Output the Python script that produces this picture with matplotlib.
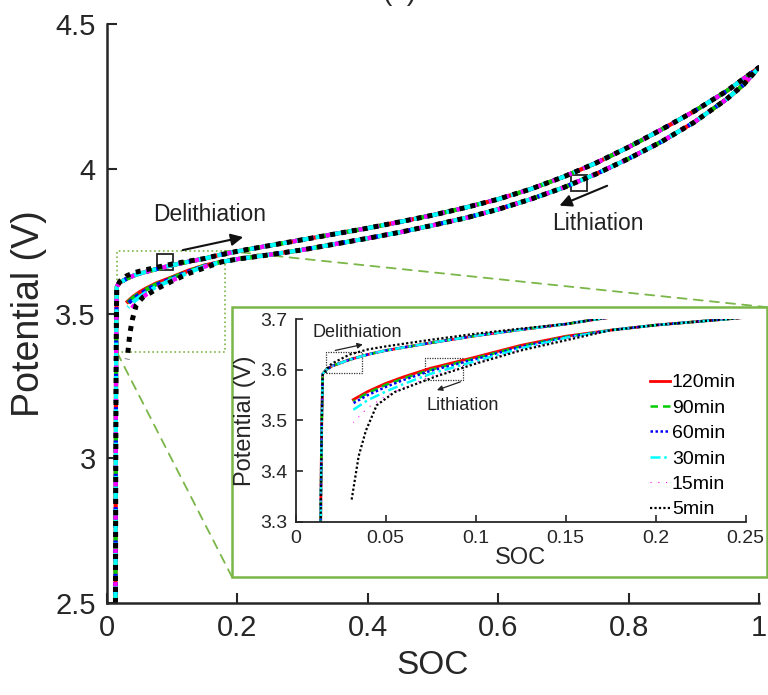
import matplotlib
matplotlib.use('Agg')
import matplotlib.pyplot as plt
from matplotlib.patches import Rectangle, ConnectionPatch

plt.rcParams['font.family'] = ['Liberation Sans', 'DejaVu Sans']

# ---- data: delithiation branch (low SOC part, per series where it differs) ----
up_lo_soc = [0.013, 0.0135, 0.014, 0.0145, 0.015, 0.017, 0.02, 0.03, 0.04, 0.05, 0.075, 0.1, 0.125, 0.15, 0.168]
up_lo_v = [2.5, 3.0, 3.35, 3.5, 3.592, 3.600, 3.607, 3.620, 3.630, 3.638, 3.653, 3.667, 3.679, 3.690, 3.700]
up_lo_v_5min = [2.5, 3.0, 3.35, 3.5, 3.590, 3.600, 3.612, 3.630, 3.640, 3.646, 3.659, 3.671, 3.681, 3.690, 3.700]

# delithiation branch, high SOC (all rates overlap)
up_hi_soc = [0.2, 0.25, 0.3, 0.35, 0.4, 0.45, 0.5, 0.55, 0.6, 0.65, 0.7, 0.75, 0.8, 0.85, 0.9, 0.95, 1.0]
up_hi_v = [3.715, 3.735, 3.755, 3.775, 3.795, 3.817, 3.84, 3.866, 3.895, 3.93, 3.972, 4.02, 4.075,
           4.135, 4.198, 4.268, 4.35]

# lithiation branch, high SOC (all rates overlap)
lo_hi_soc = [0.175, 0.2, 0.22, 0.24, 0.3, 0.35, 0.4, 0.45, 0.5, 0.55, 0.6, 0.65, 0.7, 0.75, 0.8, 0.85,
             0.9, 0.95, 0.976, 1.0]
lo_hi_v = [3.678, 3.688, 3.694, 3.70, 3.72, 3.74, 3.76, 3.781, 3.805, 3.83, 3.86, 3.895, 3.935, 3.982,
           4.035, 4.093, 4.16, 4.24, 4.29, 4.35]

# lithiation branch, low SOC (rate dependent)
lo_lo_soc = [0.032, 0.04, 0.05, 0.06, 0.075, 0.1, 0.125, 0.15]
lo_lo_v_120 = [3.541, 3.557, 3.573, 3.586, 3.603, 3.625, 3.648, 3.666]
lo_lo_v_90 = [3.538, 3.554, 3.570, 3.583, 3.600, 3.623, 3.646, 3.665]
lo_lo_v_60 = [3.534, 3.550, 3.566, 3.580, 3.598, 3.621, 3.645, 3.664]
lo_lo_v_30 = [3.521, 3.540, 3.557, 3.572, 3.592, 3.617, 3.642, 3.663]
lo_lo_v_15 = [3.496, 3.525, 3.548, 3.565, 3.587, 3.614, 3.640, 3.662]
lo_lo_soc_5 = [0.031, 0.035, 0.039, 0.045, 0.055, 0.078, 0.1, 0.125, 0.15]
lo_lo_v_5 = [3.342, 3.43, 3.48, 3.53, 3.556, 3.587, 3.612, 3.638, 3.658]

labels = ['120min', '90min', '60min', '30min', '15min', '5min']
colors = ['#ff0000', '#00cc00', '#0000ff', '#00ffff', '#ff00ff', '#000000']
styles = ['-', (0, (4, 2)), (0, (1, 1)), (0, (4, 1.5, 1, 1.5)), (0, (1, 3)), (0, (1, 1.2))]
up_series = [up_lo_v, up_lo_v, up_lo_v, up_lo_v, up_lo_v, up_lo_v_5min]
lo_series = [(lo_lo_soc, lo_lo_v_120), (lo_lo_soc, lo_lo_v_90), (lo_lo_soc, lo_lo_v_60),
             (lo_lo_soc, lo_lo_v_30), (lo_lo_soc, lo_lo_v_15), (lo_lo_soc_5, lo_lo_v_5)]


def cycle(i):
    s = up_lo_soc + up_hi_soc + lo_hi_soc[::-1] + lo_series[i][0][::-1]
    v = up_series[i] + up_hi_v + lo_hi_v[::-1] + lo_series[i][1][::-1]
    return s, v


AX_C = '#262626'
fig = plt.figure(figsize=(7.68, 6.95), dpi=100)

# ---- main axes ----
ax = fig.add_axes([0.1393, 0.1324, 0.849, 0.833])
main_lw = [3.0, 3.0, 3.0, 3.0, 3.0, 3.6]
for i in range(6):
    s, v = cycle(i)
    ax.plot(s, v, color=colors[i], ls=styles[i], lw=main_lw[i])
ax.set_xlim(0, 1)
ax.set_ylim(2.5, 4.5)
ax.set_xticks([0, 0.2, 0.4, 0.6, 0.8, 1])
ax.set_xticklabels(['0', '0.2', '0.4', '0.6', '0.8', '1'])
ax.set_yticks([2.5, 3, 3.5, 4, 4.5])
ax.set_yticklabels(['2.5', '3', '3.5', '4', '4.5'])
for sp in ['top', 'right']:
    ax.spines[sp].set_visible(False)
for sp in ['left', 'bottom']:
    ax.spines[sp].set_color(AX_C)
    ax.spines[sp].set_linewidth(1.8)
ax.tick_params(direction='in', length=7, width=1.5, colors=AX_C, labelsize=21, pad=8)
ax.set_xlabel('SOC', fontsize=24, color=AX_C, labelpad=6)
ax.set_ylabel('Potential (V)', fontsize=27, color=AX_C, labelpad=6)

# zoom region + markers
ax.add_patch(Rectangle((0.0153, 3.366), 0.1657, 0.351, fill=False, ec='#7ab648', ls=':', lw=1.2))
ax.add_patch(Rectangle((0.077, 3.652), 0.0245, 0.055, fill=False, ec='#222222', lw=1.3))
ax.add_patch(Rectangle((0.712, 3.924), 0.0245, 0.055, fill=False, ec='#222222', lw=1.3))
ax.annotate('', xy=(0.213, 3.766), xytext=(0.112, 3.717),
            arrowprops=dict(arrowstyle='-|>', color='#111111', lw=1.5, mutation_scale=18))
ax.text(0.158, 3.841, 'Delithiation', fontsize=16.5, ha='center', va='center', color='#222222')
ax.annotate('', xy=(0.69, 3.869), xytext=(0.771, 3.945),
            arrowprops=dict(arrowstyle='-|>', color='#111111', lw=1.5, mutation_scale=18))
ax.text(0.753, 3.81, 'Lithiation', fontsize=16.5, ha='center', va='center', color='#222222')

# green frame around inset (figure coords)
GREEN = '#7ab648'
frame = Rectangle((0.302, 0.170), 0.6965, 0.388, transform=fig.transFigure,
                  fill=True, fc='white', ec=GREEN, lw=1.8, zorder=5)
fig.patches.append(frame)
for pa, pb in [((0.181, 3.717), (0.9987, 0.558)), ((0.0153, 3.366), (0.302, 0.170))]:
    con = ConnectionPatch(xyA=pa, coordsA='data', axesA=ax, xyB=pb, coordsB='figure fraction',
                          color=GREEN, ls=(0, (5, 4)), lw=1.3)
    ax.add_artist(con)

# ---- inset ----
ins = fig.add_axes([0.385, 0.249, 0.586, 0.292], zorder=6)
ins_lw = [2.0, 1.8, 1.8, 1.8, 0.8, 1.6]
ins_styles = ['-', (0, (3, 2)), (0, (1, 1)), (0, (4, 1.5, 1, 1.5)), (0, (1, 6)), (0, (1, 1))]
for i in range(6):
    s, v = cycle(i)
    ins.plot(s, v, color=colors[i], ls=ins_styles[i], lw=ins_lw[i], label=labels[i])
ins.set_xlim(0, 0.25)
ins.set_ylim(3.3, 3.7)
ins.set_xticks([0, 0.05, 0.1, 0.15, 0.2, 0.25])
ins.set_xticklabels(['0', '0.05', '0.1', '0.15', '0.2', '0.25'])
ins.set_yticks([3.3, 3.4, 3.5, 3.6, 3.7])
ins.set_yticklabels(['3.3', '3.4', '3.5', '3.6', '3.7'])
for sp in ['top', 'right']:
    ins.spines[sp].set_visible(False)
for sp in ['left', 'bottom']:
    ins.spines[sp].set_color(AX_C)
    ins.spines[sp].set_linewidth(1.3)
ins.tick_params(direction='in', length=5, width=1.2, colors=AX_C, labelsize=14, pad=6)
ins.set_xlabel('SOC', fontsize=17, color=AX_C, labelpad=0)
ins.set_ylabel('Potential (V)', fontsize=17, color=AX_C, labelpad=3)
ins.add_patch(Rectangle((0.0169, 3.594), 0.0202, 0.041, fill=False, ec='#333333', ls=(0, (1, 1)), lw=0.9))
ins.add_patch(Rectangle((0.072, 3.580), 0.021, 0.043, fill=False, ec='#333333', ls=(0, (1, 1)), lw=0.9))
ins.annotate('', xy=(0.0388, 3.651), xytext=(0.0205, 3.637),
             arrowprops=dict(arrowstyle='-|>', color='#222222', lw=0.9, mutation_scale=8))
ins.text(0.034, 3.673, 'Delithiation', fontsize=13, ha='center', va='center', color='#222222')
ins.annotate('', xy=(0.077, 3.558), xytext=(0.093, 3.578),
             arrowprops=dict(arrowstyle='-|>', color='#222222', lw=0.9, mutation_scale=8))
ins.text(0.093, 3.53, 'Lithiation', fontsize=13, ha='center', va='center', color='#222222')
ins.legend(loc='lower right', bbox_to_anchor=(1.0, -0.03), frameon=False, fontsize=14,
           handlelength=1.0, handletextpad=0.1, labelspacing=0.4, borderpad=0.0)

fig.text(0.52, 1 - 6 / 695, '(a)', fontsize=20, ha='center', va='bottom', color=AX_C)

plt.savefig('out.png', dpi=100)
